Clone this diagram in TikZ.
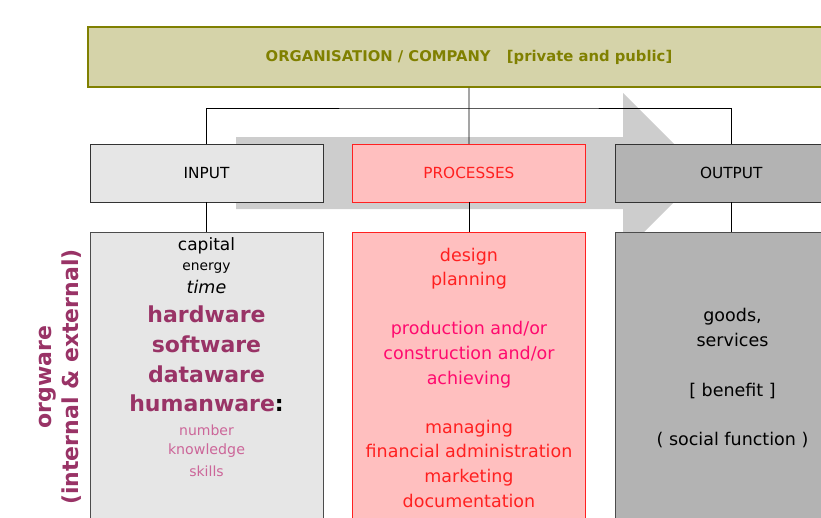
\documentclass[tikz,border=0pt]{standalone}
\usepackage{fontspec}
\setmainfont{DejaVu Sans}
\usetikzlibrary{positioning}
\definecolor{olivetxt}{HTML}{808000}
\definecolor{olivefill}{HTML}{D5D3A9}
\definecolor{inputgray}{HTML}{E6E6E6}
\definecolor{procpink}{HTML}{FFBFBF}
\definecolor{procred}{HTML}{FF2020}
\definecolor{magred}{HTML}{FF0A6E}
\definecolor{outgray}{HTML}{B3B3B3}
\definecolor{arrowgray}{HTML}{CDCDCD}
\definecolor{plum}{HTML}{993366}
\definecolor{lightplum}{HTML}{CC6699}
\tikzset{line/.style={line width=0.8pt}, hdr/.style={draw=black!80, minimum width=233pt, minimum height=58pt, inner sep=0pt, font=\fontsize{15.3}{17}\selectfont},
body/.style={draw=black!70, minimum width=233pt, minimum height=300pt, inner sep=0pt}, word/.style={anchor=base}}

\begin{document}
\begin{tikzpicture}[x=1pt,y=-1pt]
\useasboundingbox (0,0) rectangle (821,517);
\clip (0,0) rectangle (821,517);
% big arrow behind everything
\fill[arrowgray] (236,137) -- (623,137) -- (623,93) -- (703,173) -- (623,253) -- (623,209) -- (236,209) -- cycle;

% Boxes
\node[draw=olivetxt, line width=1.6pt, fill=olivefill, minimum width=762pt, minimum height=60pt, inner sep=0pt, text=olivetxt, font=\fontsize{14.8}{17}\selectfont\bfseries] (org) at (469,57) {ORGANISATION / COMPANY\hspace{1.1em}[private and public]};
\node[hdr, fill=inputgray] (input) at (206.5,173) {INPUT};
\node[hdr, fill=procpink, draw=procred, text=procred, right=29pt of input] (proc) {PROCESSES};
\node[hdr, fill=outgray, right=29pt of proc] (output) {OUTPUT};
\node[body, fill=inputgray, below=30pt of input] (inbody) {};
\node[body, fill=procpink, draw=procred, below=30pt of proc] (procbody) {};
\node[body, fill=outgray, below=30pt of output] (outbody) {};

% Connectors
\coordinate (split) at (469,108);
\draw[line] (org.south) -- (proc.north);
\draw[line] (input.north) |- (split) -| (output.north);
\draw[line] (input.south) -- (inbody.north);
\draw[line] (proc.south) -- (procbody.north);
\draw[line] (output.south) -- (outbody.north);

% Input resources
\node[word, font=\fontsize{17}{20}\selectfont] (capital) at (206.5,250) {capital};
\node[word, font=\fontsize{13.8}{16}\selectfont] (energy) at (206.5,270.7) {energy};
\node[word, font=\fontsize{17.5}{20}\selectfont\itshape] (time) at (206.5,293) {time};
\node[word, text=plum, font=\fontsize{22}{26}\selectfont\bfseries] (hardware) at (206.5,322.7) {hardware};
\node[word, text=plum, font=\fontsize{22}{26}\selectfont\bfseries] (software) at (206.5,352.7) {software};
\node[word, text=plum, font=\fontsize{22}{26}\selectfont\bfseries] (dataware) at (206.5,382.7) {dataware};
\node[word, text=plum, font=\fontsize{22}{26}\selectfont\bfseries] (humanware) at (206.5,411.7) {humanware\textcolor{black}{:}};
\node[word, text=lightplum, font=\fontsize{14}{16}\selectfont] (number) at (206.5,435) {number};
\node[word, text=lightplum, font=\fontsize{14.2}{16}\selectfont] (knowledge) at (206.5,454.3) {knowledge};
\node[word, text=lightplum, font=\fontsize{14}{16}\selectfont] (skills) at (206.5,476.7) {skills};

% Processes and output (base = last line)
\node[word, align=center, text=procred, font=\fontsize{17.5}{24.6}\selectfont] (proctext) at (469,507) {design\\planning\\[24.6pt]
\textcolor{magred}{production and/or}\\\textcolor{magred}{construction and/or}\\\textcolor{magred}{achieving}\\[24.6pt]
managing\\financial administration\\marketing\\documentation};
\node[word, align=center, font=\fontsize{17.5}{24.5}\selectfont] (outtext) at (732.5,445) {goods,\\services\\[26pt]{[} benefit {]}\\[24pt]( social function )};

% side label
\node[rotate=90, align=center, text=plum, font=\fontsize{22}{27}\selectfont\bfseries] (orgware) at (60,377) {orgware\\(internal \& external)};
\end{tikzpicture}
\end{document}
